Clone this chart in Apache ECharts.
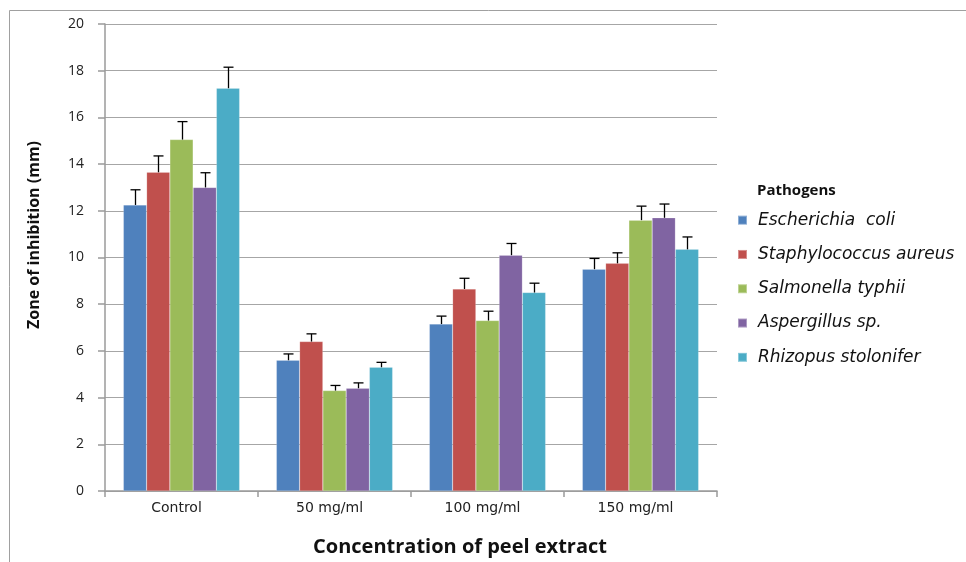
<!DOCTYPE html>
<html>
<head>
<meta charset="utf-8">
<script src="https://cdn.jsdelivr.net/npm/echarts@6/dist/echarts.min.js"></script>
<style>
  html, body { margin: 0; padding: 0; background: #fff; }
  #chart { width: 966px; height: 562px; }
</style>
</head>
<body>
<div id="chart"></div>
<script>
// Concentrations tested
var categories = ['Control', '50 mg/ml', '100 mg/ml', '150 mg/ml'];

// Pathogens
var pathogens = ['Escherichia  coli', 'Staphylococcus aureus', 'Salmonella typhii', 'Aspergillus sp.', 'Rhizopus stolonifer'];

// Mean zone of inhibition (mm) per pathogen, across concentrations
var eColi      = [12.25, 5.6, 7.15, 9.5];
var sAureus    = [13.65, 6.4, 8.65, 9.75];
var sTyphii    = [15.05, 4.3, 7.3, 11.6];
var aspergillus = [13.0, 4.4, 10.1, 11.7];
var rhizopus   = [17.25, 5.3, 8.5, 10.35];

// Standard error (mm)
var eColiErr      = [0.65, 0.27, 0.34, 0.46];
var sAureusErr    = [0.7, 0.33, 0.46, 0.45];
var sTyphiiErr    = [0.77, 0.22, 0.4, 0.6];
var aspergillusErr = [0.63, 0.23, 0.5, 0.59];
var rhizopusErr   = [0.9, 0.21, 0.4, 0.53];

var yTicks = [0, 20, 2];

var means = [eColi, sAureus, sTyphii, aspergillus, rhizopus];
var errs = [eColiErr, sAureusErr, sTyphiiErr, aspergillusErr, rhizopusErr];
var colors = ['#4F81BD', '#C0504D', '#9BBB59', '#8064A2', '#4BACC6'];

var CAT_GAP = 0.24;
var nSeries = means.length;

// Upper-only error whisker with a T cap, centred on its bar
function errorRenderer(idx) {
  return function (params, api) {
    var cat = api.value(0);
    var mean = api.value(1);
    var err = api.value(2);
    var band = api.size([1, 0])[0];
    var groupW = band * (1 - CAT_GAP);
    var barW = groupW / nSeries;
    var base = api.coord([cat, mean]);
    var top = api.coord([cat, mean + err]);
    var x = Math.round(base[0] - groupW / 2 + (idx + 0.5) * barW) + 0.5;
    var half = 5;
    var style = { stroke: '#000', lineWidth: 1.3 };
    return {
      type: 'group',
      children: [
        { type: 'line', shape: { x1: x, y1: base[1], x2: x, y2: top[1] }, style: style },
        { type: 'line', shape: { x1: x - half, y1: top[1], x2: x + half, y2: top[1] }, style: style }
      ]
    };
  };
}

var series = [];
means.forEach(function (vals, i) {
  series.push({
    name: pathogens[i],
    type: 'bar',
    data: vals,
    barGap: '0%',
    barCategoryGap: (CAT_GAP * 100) + '%',
    itemStyle: { color: colors[i], borderColor: 'rgba(255,255,255,0.35)', borderWidth: 0.5 },
    z: 2
  });
});
means.forEach(function (vals, i) {
  series.push({
    name: pathogens[i] + ' error',
    type: 'custom',
    renderItem: errorRenderer(i),
    data: vals.map(function (v, j) { return [j, v, errs[i][j]]; }),
    encode: { x: 0, y: 1 },
    z: 3,
    silent: true
  });
});

var chart = echarts.init(document.getElementById('chart'), null, { renderer: 'canvas' });
chart.setOption({
  animation: false,
  backgroundColor: '#fff',
  grid: { left: 105, right: 249, top: 24, bottom: 71, containLabel: false },
  xAxis: {
    type: 'category',
    data: categories,
    axisLine: { lineStyle: { color: '#9a9a9a', width: 1.5 } },
    axisTick: { show: true, length: 6, alignWithLabel: false, lineStyle: { color: '#9a9a9a', width: 1.5 } },
    axisLabel: { fontFamily: 'DejaVu Sans', fontSize: 14, color: '#222', margin: 10, padding: [0, 10, 0, 0] }
  },
  yAxis: {
    type: 'value',
    min: yTicks[0],
    max: yTicks[1],
    interval: yTicks[2],
    axisLine: { show: true, lineStyle: { color: '#9a9a9a', width: 1.5 } },
    axisTick: { show: true, length: 7, lineStyle: { color: '#9a9a9a', width: 1.5 } },
    axisLabel: { fontFamily: 'Open Sans', fontSize: 14, color: '#222', margin: 21 },
    splitLine: { lineStyle: { color: '#a6a6a6', width: 1.2 } }
  },
  legend: {
    orient: 'vertical',
    left: 737,
    top: 210,
    padding: 0,
    itemWidth: 9,
    itemHeight: 9,
    itemGap: 14,
    icon: 'rect',
    data: pathogens,
    textStyle: { fontFamily: 'DejaVu Sans', fontStyle: 'italic', fontSize: 17, color: '#111', padding: [0, 0, 0, 6], lineHeight: 20.3 }
  },
  graphic: [
    {
      type: 'rect',
      shape: { x: 9.5, y: 10.5, width: 970, height: 600 },
      style: { fill: 'none', stroke: '#a0a0a0', lineWidth: 1 },
      silent: true,
      z: -1
    },
    {
      type: 'text',
      left: 757,
      top: 183,
      style: { text: 'Pathogens', font: 'bold 15px "Open Sans"', fill: '#111' }
    },
    {
      type: 'text',
      x: 34,
      y: 235,
      rotation: Math.PI / 2,
      style: {
        text: 'Zone of inhibition (mm)',
        font: 'bold 16px "Open Sans"',
        fill: '#111',
        textAlign: 'center',
        textVerticalAlign: 'middle'
      }
    },
    {
      type: 'text',
      x: 460,
      y: 547,
      style: {
        text: 'Concentration of peel extract',
        font: 'bold 20px "Open Sans"',
        fill: '#111',
        textAlign: 'center',
        textVerticalAlign: 'middle'
      }
    }
  ],
  series: series
});
</script>
</body>
</html>
